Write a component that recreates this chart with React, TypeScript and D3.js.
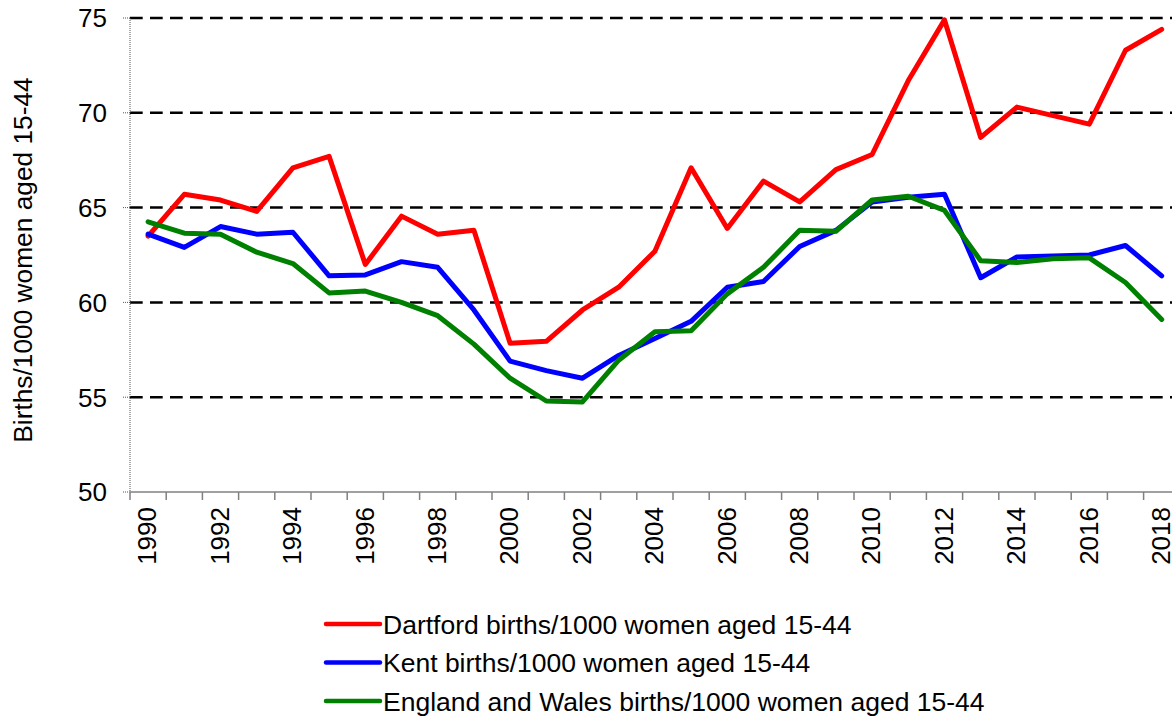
import * as d3 from 'd3';

const years = [
  1990, 1991, 1992, 1993, 1994, 1995, 1996, 1997, 1998, 1999, 2000, 2001, 2002, 2003, 2004,
  2005, 2006, 2007, 2008, 2009, 2010, 2011, 2012, 2013, 2014, 2015, 2016, 2017, 2018,
];

const dartford = [
  63.5, 65.7, 65.4, 64.8, 67.1, 67.7, 62.0, 64.55, 63.6, 63.8, 57.85, 57.95, 59.6, 60.8, 62.7,
  67.1, 63.9, 66.4, 65.3, 67.0, 67.8, 71.7, 74.9, 68.7, 70.3, 69.85, 69.4, 73.3, 74.4,
];

const kent = [
  63.6, 62.9, 64.0, 63.6, 63.7, 61.4, 61.45, 62.15, 61.85, 59.6, 56.9, 56.4, 56.0, 57.2, 58.1,
  59.0, 60.8, 61.1, 62.95, 63.8, 65.3, 65.55, 65.7, 61.3, 62.4, 62.45, 62.5, 63.0, 61.4,
];

const englandWales = [
  64.25, 63.65, 63.6, 62.65, 62.05, 60.5, 60.6, 60.0, 59.3, 57.8, 56.0, 54.8, 54.75, 56.95, 58.45,
  58.5, 60.45, 61.85, 63.8, 63.75, 65.4, 65.6, 64.85, 62.2, 62.1, 62.3, 62.35, 61.05, 59.1,
];

const yTicks = [50, 55, 60, 65, 70, 75];

const seriesList = [
  { id: 'dartford', label: 'Dartford births/1000 women aged 15-44', color: '#ff0000', values: dartford },
  { id: 'kent', label: 'Kent births/1000 women aged 15-44', color: '#0000ff', values: kent },
  { id: 'ew', label: 'England and Wales births/1000 women aged 15-44', color: '#008000', values: englandWales },
];

const W = 1172;
const H = 718;
const FONT = "'Liberation Sans', Arial, sans-serif";

export default function App() {
  const left = 130;
  const top = 18;
  const bottom = 492;
  const step = 36.2;
  const right = left + step * years.length;

  const x = d3.scaleBand<number>().domain(years).range([left, right]).padding(0);
  const y = d3.scaleLinear().domain([50, 75]).range([bottom, top]);
  const cx = (yr: number) => (x(yr) ?? 0) + x.bandwidth() / 2;

  const line = d3
    .line<{ yr: number; v: number }>()
    .x((d) => cx(d.yr))
    .y((d) => y(d.v));

  // category boundaries for the bottom tick marks
  const boundaries = [...years.map((yr) => x(yr) ?? 0), right];

  return (
    <svg
      width={W}
      height={H}
      style={{ position: 'absolute', left: 0, top: 0, background: '#fff' }}
      fontFamily={FONT}
    >
      {/* dashed gridlines */}
      {yTicks
        .filter((t) => t > 50)
        .map((t) => (
          <line
            key={`g-${t}`}
            x1={left}
            x2={right}
            y1={y(t)}
            y2={y(t)}
            stroke="#000"
            strokeWidth={2.5}
            strokeDasharray="12.7 7.3"
          />
        ))}

      {/* y axis: thin dotted line and small ticks */}
      <line x1={left} x2={left} y1={top} y2={bottom} stroke="#555" strokeWidth={1} strokeDasharray="1 1" />
      {yTicks.map((t) => (
        <g key={`yt-${t}`}>
          <line x1={left - 7} x2={left} y1={y(t)} y2={y(t)} stroke="#555" strokeWidth={1} strokeDasharray="1 1" />
          <text x={107} y={y(t)} dy="0.36em" textAnchor="end" fontSize={26} fill="#000">
            {t}
          </text>
        </g>
      ))}

      {/* x axis */}
      <line x1={left} x2={right} y1={bottom} y2={bottom} stroke="#808080" strokeWidth={1.5} />
      {boundaries.map((b, i) => (
        <line key={`xt-${i}`} x1={b} x2={b} y1={bottom} y2={bottom + 8} stroke="#808080" strokeWidth={1.5} />
      ))}
      {years
        .filter((yr) => yr % 2 === 0)
        .map((yr) => (
          <text
            key={`xl-${yr}`}
            transform={`translate(${cx(yr) - 1}, ${bottom + 15}) rotate(-90)`}
            textAnchor="end"
            dy="0.36em"
            fontSize={26}
            fill="#000"
          >
            {yr}
          </text>
        ))}

      {/* y axis title */}
      <text
        transform={`translate(22.5, ${(top + bottom) / 2 + 5}) rotate(-90)`}
        textAnchor="middle"
        dy="0.36em"
        fontSize={26.3}
        fill="#000"
      >
        Births/1000 women aged 15-44
      </text>

      {/* series */}
      {seriesList.map((s) => (
        <path
          key={s.id}
          d={line(years.map((yr, i) => ({ yr, v: s.values[i] }))) ?? undefined}
          fill="none"
          stroke={s.color}
          strokeWidth={5}
          strokeLinejoin="round"
          strokeLinecap="round"
        />
      ))}

      {/* legend */}
      {seriesList.map((s, i) => {
        const ly = 624 + i * 38.5;
        return (
          <g key={`lg-${s.id}`}>
            <line x1={326} x2={380} y1={ly} y2={ly} stroke={s.color} strokeWidth={4.5} strokeLinecap="round" />
            <text x={383} y={ly} dy="0.36em" fontSize={26.5} fill="#000">
              {s.label}
            </text>
          </g>
        );
      })}
    </svg>
  );
}
